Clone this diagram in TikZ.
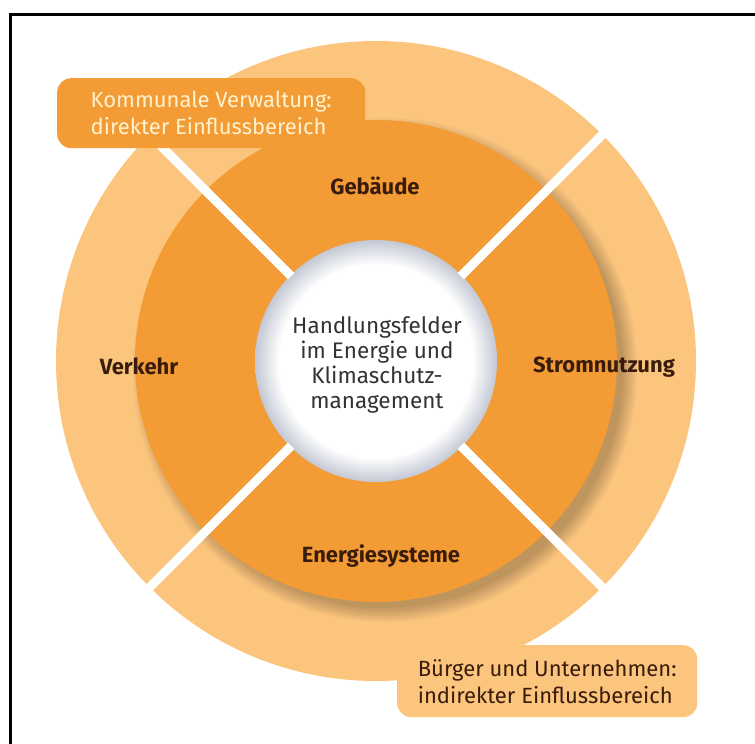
\documentclass[tikz,border=0pt]{standalone}
\usepackage{fontspec}
\setmainfont{Fira Sans}
\usetikzlibrary{positioning}

\definecolor{ringlight}{HTML}{FBC57E}
\definecolor{ringdark}{HTML}{F39B34}
\definecolor{textbrown}{HTML}{3A1C0C}
\definecolor{textcream}{HTML}{FFF2CF}
\definecolor{rimgray}{HTML}{C3C8D4}
\pgfdeclareradialshading{hubshade}{\pgfpoint{0bp}{0bp}}{color(0bp)=(white); color(20bp)=(white); color(25bp)=(rimgray); color(50bp)=(rimgray)}

\begin{document}
\begin{tikzpicture}[x=1pt,y=1pt,
  field/.style={font=\bfseries\fontsize{22}{26}\selectfont, text=textbrown},
  tagbox/.style={rounded corners=14pt, align=left, inner xsep=0pt, inner ysep=0pt,
    font=\fontsize{22}{27}\selectfont}]
\useasboundingbox (0,0) rectangle (755,-744);
\coordinate (c) at (376,-361);

% frame
\draw[line width=3pt] (10,-744) -- (10,-14) -- (755,-14);

% rings
\fill[ringlight] (c) circle (320);
\foreach \i in {1,...,8}
  \fill[black,opacity=0.03] ([shift={(9,-9)}]c) circle (236+\i*2);
\fill[ringdark] (c) circle (241);
\shade[shading=hubshade] (c) circle (121);

% gaps
\foreach \a in {45,135,225,315}
  \draw[white,line width=9pt] ([shift={(\a:120)}]c) -- ([shift={(\a:326)}]c);

% fields
\node[field] (gebaeude) at (375,-186) {Gebäude};
\node[field] (verkehr) at (139,-366) {Verkehr};
\node[field] (strom) at (604,-367) {Stromnutzung};
\node[field] (energie) at (381,-556) {Energiesysteme};

\node[align=center, text=black!80, font=\fontsize{22.5}{25}\selectfont] (hub) at (377,-365)
  {Handlungsfelder\\im Energie und\\Klimaschutz-\\management};

% labels
\node[tagbox, fill=ringdark, text=textcream, minimum width=308pt, minimum height=70pt,
  anchor=north west] (direkt) at (57,-78)
  {Kommunale Verwaltung:\\direkter Einflussbereich};
\node[tagbox, fill=ringlight, text=textbrown, minimum width=300pt, minimum height=72pt,
  anchor=north west] (indirekt) at (397,-645)
  {Bürger und Unternehmen:\\indirekter Einflussbereich};
\end{tikzpicture}
\end{document}
